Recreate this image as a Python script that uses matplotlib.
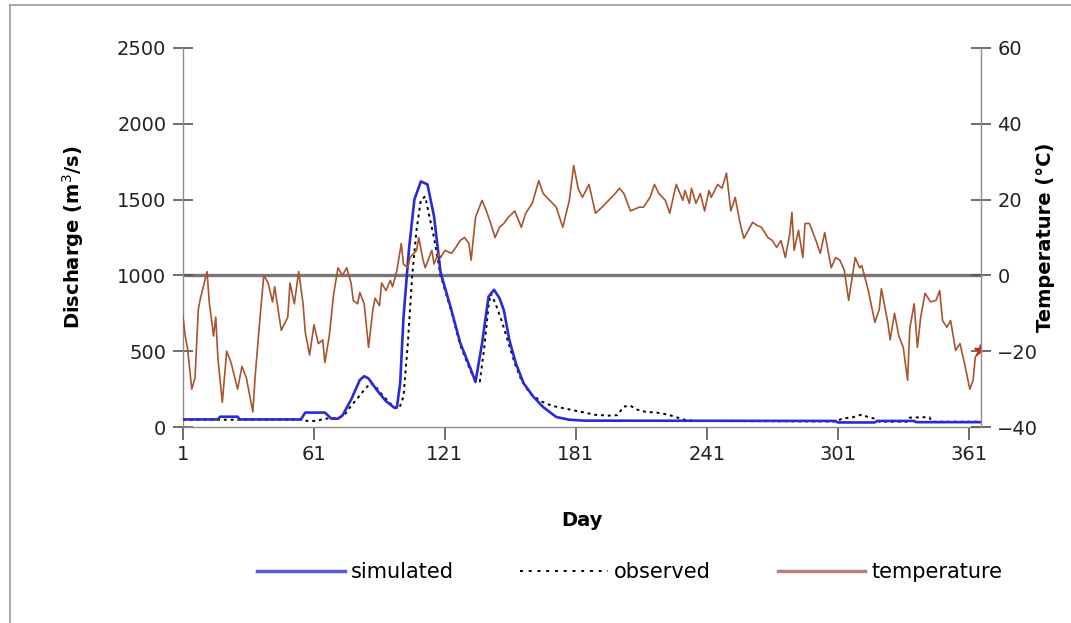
import numpy as np
import matplotlib
matplotlib.use("Agg")
from matplotlib import pyplot as plt
from matplotlib.lines import Line2D

plt.rcParams['font.family'] = ['DejaVu Sans']

# simulated discharge (day, m3/s)
sim_day = [1, 17, 18, 26, 27, 55, 57, 66, 69, 72, 74, 78, 82, 84, 86, 90, 94, 98, 99,
           100.5, 102, 104.5, 107, 110, 113, 116, 119, 124, 128, 133, 135, 138, 141,
           143.5, 146, 148, 150.5, 153.5, 157, 161.5, 166, 172, 178, 185, 300, 301,
           318, 319, 336, 337, 366]
sim_q = [50, 50, 68, 68, 50, 50, 95, 95, 55, 55, 75, 180, 310, 335, 320, 240, 170, 125, 130,
         290, 720, 1170, 1500, 1620, 1600, 1390, 1020, 770, 555, 375, 297, 550, 860,
         905, 850, 770, 575, 420, 290, 200, 132, 66, 48, 42, 40, 30,
         30, 40, 40, 32, 32]

# observed discharge (day, m3/s)
obs_day = [1, 55, 58, 62, 66, 72, 75, 78, 81, 84, 87, 89, 93, 97, 100, 102, 104, 106, 108,
           110, 112, 114, 116, 119, 124, 128, 133, 136, 137, 139, 141, 142, 144, 147, 150,
           153, 156, 160, 165, 170, 175, 180, 185, 190, 196, 200, 203, 206, 209, 213, 218,
           222, 226, 230, 235, 300, 303, 308, 312, 315, 318, 320, 333, 334, 343, 344, 366]
obs_q = [48, 48, 40, 40, 55, 60, 80, 140, 190, 245, 290, 270, 200, 140, 120, 200, 550, 1000, 1300,
         1500, 1520, 1380, 1250, 1000, 760, 540, 360, 310, 300, 520, 800, 880, 820, 700, 560,
         420, 310, 220, 170, 140, 125, 110, 95, 80, 75, 78, 135, 140, 115, 100, 95,
         85, 70, 50, 40, 36, 55, 65, 82, 65, 55, 35, 35, 62, 65, 35, 35]

# air temperature (day, deg C)
temp_day = [1, 2, 3, 5, 6.5, 8, 9, 12, 13, 15, 16, 17, 19, 21, 23, 26, 28, 30, 31, 33, 34, 36,
            38, 40, 42, 43, 46, 49, 50, 52, 54, 56, 57, 59, 61, 63, 65, 66, 68, 70, 72, 74,
            76, 78, 79, 81, 82, 84, 86, 88, 89, 91, 92, 94, 96, 97, 99, 101, 102, 104, 105,
            108, 109, 111, 112, 115, 116, 118, 119, 121, 124, 126, 128, 130, 132, 133, 135,
            138, 140, 142, 144, 146, 148, 150, 153, 156, 158, 161, 164, 166, 169, 172, 175,
            178, 180, 182, 184, 187, 190, 193, 196, 199, 201, 203, 206, 210, 212, 215, 217,
            219, 222, 224, 226, 227, 230, 231, 233, 234, 236, 238, 240, 242, 243, 246, 248,
            250, 252, 254, 256, 257, 258, 260, 262, 264, 266, 269, 271, 273, 275, 277, 279,
            280, 281, 283, 285, 286, 288, 291, 293, 295, 298, 300, 302, 304, 306, 309, 311,
            312, 315, 318, 320, 321, 324, 325, 327, 329, 331, 333, 334, 336, 337.5, 339, 341,
            343.5, 346, 347.7, 349, 351, 352.7, 355, 357, 359, 361.5, 363, 364, 366]
temp_c = [-11, -16, -19, -30, -27, -9, -6, 1, -7, -16, -11, -22, -33.5, -20, -23, -30, -24, -27,
          -30, -36, -27, -13, 0, -2, -7, -3, -14.5, -11, -2, -7.5, 1, -7.5, -15, -21, -13, -18,
          -17, -23, -16, -5, 2, 0, 2, -2, -6.6, -7.5, -4.5, -7.5, -19, -9, -6, -8, -2, -4,
          -1.3, -3, 1.3, 8.4, 3, 2, 4.7, 6.6, 10, 4, 2, 6.6, 3, 5.8, 4.7, 6.6, 5.8, 7.4, 9.2,
          10, 8.4, 4, 15.3, 19.8, 17, 13.7, 10, 12.7, 13.7, 15.3, 17, 12.7, 16.4, 19, 25,
          21.6, 19.8, 18, 12.7, 19.8, 29, 23, 20.6, 24, 16.4, 18, 19.8, 21.6, 23, 21.6, 17,
          18, 18, 20.6, 24, 21.6, 19.8, 16.4, 21.6, 24, 19.8, 22.4, 19, 23, 19, 21.6, 17,
          22.4, 20.6, 24, 23, 27, 17, 20.6, 14.5, 11.9, 9.8, 11.9, 14, 13.2, 12.7, 10, 9.2,
          7.4, 9.2, 4.7, 11, 16.6, 6.6, 11.9, 4.7, 13.7, 13.7, 9.2, 5.8, 11.3, 2, 4.7, 4,
          1.3, -6.6, 4.7, 2, 2.6, -4, -12.4, -9, -3.5, -12.7, -17, -10, -16, -19, -27.7,
          -14, -7.5, -19, -11, -4.7, -7, -6.6, -4, -11.9, -13.7, -11.9, -19.8, -18, -23,
          -30, -27.7, -21.6, -19.8]

day_ticks = [1, 61, 121, 181, 241, 301, 361]

fig = plt.figure(figsize=(10.71, 6.23), dpi=100)
ax = fig.add_axes([0.1709, 0.3146, 0.9157 - 0.1709, 0.923 - 0.3146])
ax2 = ax.twinx()

ax.axhline(1000, color='#777777', lw=2.4, zorder=1)
ax.plot(obs_day, obs_q, color='black', lw=1.4, linestyle=(0, (1.5, 2)), zorder=2)
ax.plot(sim_day, sim_q, color='#2b2bd6', lw=1.9, zorder=3)
ax2.plot(temp_day, temp_c, color='#a8542e', lw=1.2)
ax2.plot(temp_day[-1:], temp_c[-1:], marker='*', color='#cc2a1a', ms=9, ls='none')

ax.set_xlim(1, 366.5)
ax.set_ylim(0, 2500)
ax2.set_ylim(-40, 60)
ax.set_xticks(day_ticks)
ax.set_yticks(range(0, 2501, 500))
ax2.set_yticks(range(-40, 61, 20))

for a in (ax, ax2):
    for s in a.spines.values():
        s.set_color('#8c8c8c')
        s.set_linewidth(1.0)
    a.spines['top'].set_visible(False)
ax.spines['right'].set_visible(False)
ax2.spines['left'].set_visible(False)
ax2.spines['bottom'].set_visible(False)

ax.tick_params(axis='y', direction='inout', length=14, width=1.2, color='#555555',
               labelsize=14, pad=5, labelcolor='#222222')
ax2.tick_params(axis='y', direction='inout', length=14, width=1.2, color='#555555',
                labelsize=14, pad=5, labelcolor='#222222')
ax.tick_params(axis='x', direction='out', length=9, width=1.2, color='#555555',
               labelsize=14, pad=4, labelcolor='#222222')

ax.set_ylabel('Discharge (m$^3$/s)', fontsize=14, fontweight='bold', labelpad=22)
ax2.set_ylabel('Temperature (°C)', fontsize=14, fontweight='bold', labelpad=-2)
ax.set_xlabel('Day', fontsize=14, fontweight='bold', labelpad=34)

h1, = ax.plot([], [], color='#5a5ad0', lw=2.5)
h2, = ax.plot([], [], color='black', lw=1.4, linestyle=(0, (1.5, 3)))
h3, = ax.plot([], [], color='#b88080', lw=2.5)
fig.legend([h1, h2, h3], ['simulated', 'observed', 'temperature'],
           loc='center', bbox_to_anchor=(0.588, 0.082), ncol=3, frameon=False,
           fontsize=15, handlelength=4.2, handletextpad=0.3, columnspacing=3.2)

# outer frame (left and top edges)
fig.add_artist(Line2D([0.0093, 0.0093], [0.0, 0.992], transform=fig.transFigure,
                      color='#9a9a9a', lw=1.2))
fig.add_artist(Line2D([0.0093, 1.0], [0.992, 0.992], transform=fig.transFigure,
                      color='#9a9a9a', lw=1.2))

fig.savefig('out.png', dpi=100)
